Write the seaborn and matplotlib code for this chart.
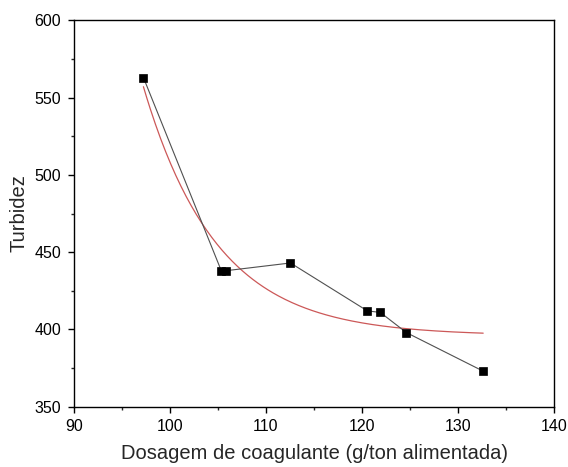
import numpy as np
import pandas as pd
import seaborn as sns
import matplotlib.pyplot as plt
from matplotlib.ticker import MultipleLocator

dosagem = [97.25, 105.35, 105.85, 112.55, 120.55, 121.9, 124.6, 132.6]
turbidez = [563, 438, 438, 443, 412, 411, 398, 373]

# exponential decay fit: y = y0 + A*exp(-(x - x0)/t)
fit_x0 = 97.3
fit_y0 = 396.0
fit_a = 160.0
fit_t = 7.65

x_fit = np.linspace(min(dosagem), max(dosagem), 200)
y_fit = fit_y0 + fit_a * np.exp(-(x_fit - fit_x0) / fit_t)

df = pd.DataFrame({'Dosagem': dosagem, 'Turbidez': turbidez})
fit = pd.DataFrame({'Dosagem': x_fit, 'Turbidez': y_fit})

sns.set_style('ticks')
plt.rcParams['font.family'] = ['Liberation Sans', 'DejaVu Sans']

fig = plt.figure(figsize=(5.68, 4.67), dpi=100)
ax = fig.add_axes([0.1298, 0.1291, 0.8461, 0.8274])

sns.lineplot(data=fit, x='Dosagem', y='Turbidez', color='#cc5858', linewidth=0.9, ax=ax)
sns.lineplot(data=df, x='Dosagem', y='Turbidez', color='#505050', linewidth=0.8,
             marker='s', markersize=5.6, markerfacecolor='black', markeredgecolor='black',
             markeredgewidth=0.5, sort=False, estimator=None, ax=ax)

ax.set_xlim(90, 140)
ax.set_ylim(350, 600)
ax.xaxis.set_major_locator(MultipleLocator(10))
ax.xaxis.set_minor_locator(MultipleLocator(5))
ax.yaxis.set_major_locator(MultipleLocator(50))
ax.yaxis.set_minor_locator(MultipleLocator(25))
ax.tick_params(which='major', direction='out', length=4.5, width=1, labelsize=11.5,
               colors='black', pad=4.5)
ax.tick_params(which='minor', direction='out', length=2.5, width=1)
for s in ax.spines.values():
    s.set_visible(True)
    s.set_linewidth(1)
    s.set_color('black')

ax.set_xlabel('Dosagem de coagulante (g/ton alimentada)', fontsize=14.5, labelpad=7)
ax.set_ylabel('Turbidez', fontsize=14.5, labelpad=4)

fig.savefig('out.png', dpi=100)
